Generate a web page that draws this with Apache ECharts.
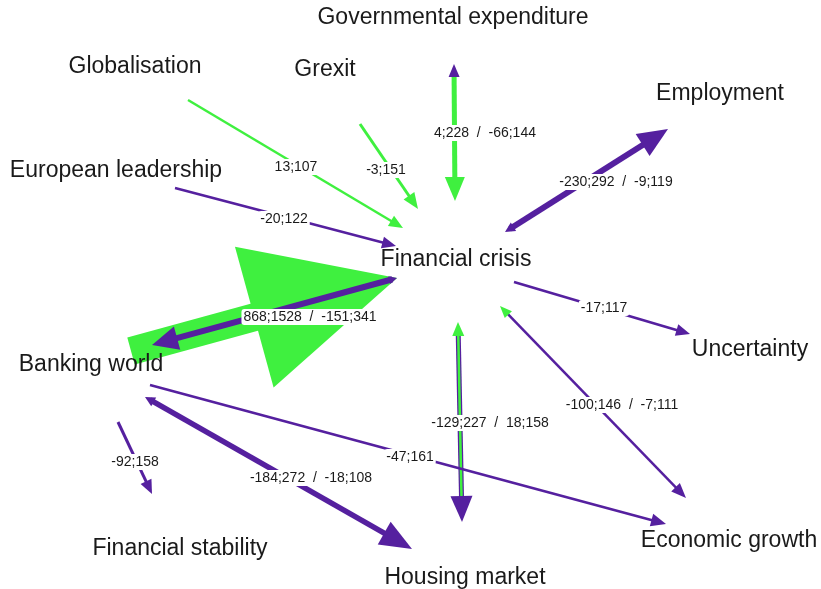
<!DOCTYPE html>
<html>
<head>
<meta charset="utf-8">
<script src="https://cdn.jsdelivr.net/npm/echarts@6/dist/echarts.min.js"></script>
<style>
  html, body { margin: 0; padding: 0; background: #fff; }
  #chart { width: 821px; height: 589px; }
</style>
</head>
<body>
<div id="chart"></div>
<script>
// concept nodes and where their names sit (picture units, y downwards)
const nodeNames = ['Governmental expenditure', 'Globalisation', 'Grexit', 'Employment',
  'European leadership', 'Financial crisis', 'Uncertainty', 'Banking world',
  'Financial stability', 'Economic growth', 'Housing market'];
const nodeX = [453, 135, 325, 720, 116, 456, 750, 91, 180, 729, 465];
const nodeY = [18, 67, 70, 94, 171, 260, 350, 365, 549, 541, 578];

// arrows: start point -> end point
const arrowFrom = [[131, 351], [397, 278], [454, 64], [360, 124], [188, 100], [175, 188],
  [505, 232], [514, 282], [500, 306], [458, 322], [150, 385], [145, 397], [118, 422]];
const arrowTo = [[397, 278], [152, 345], [455, 201], [418, 209], [403, 228], [396, 246],
  [668, 129], [690, 334], [686, 498], [462, 522], [666, 524], [412, 549], [152, 494]];

// edge labels and their anchor points
const edgeLabels = ['868;1528  /  -151;341', '', '4;228  /  -66;144', '-3;151', '13;107', '-20;122',
  '-230;292  /  -9;119', '-17;117', '-100;146  /  -7;111', '-129;227  /  18;158', '-47;161',
  '-184;272  /  -18;108', '-92;158'];
const edgeLabelX = [310, 0, 485, 386, 296, 284, 616, 604, 622, 490, 410, 311, 135];
const edgeLabelY = [317, 0, 133, 170, 167, 219, 182, 308, 405, 423, 457, 478, 462];

const GREEN = '#3ff03f';
const PURPLE = '#55209f';
const FONT = 'Liberation Sans, Arial, sans-serif';

// drawing style per arrow: shaft width, colour, head [length, width], optional back head
const arrowStyle = [
  { w: 28, c: GREEN, head: [148, 146] },
  { w: 6, c: PURPLE, head: [26, 24], back: { c: PURPLE, s: [8, 8] } },
  { w: 5, c: GREEN, head: [24, 20], back: { c: PURPLE, s: [13, 11] } },
  { w: 3, c: GREEN, head: [16, 13] },
  { w: 2.5, c: GREEN, head: [14, 12] },
  { w: 2.5, c: PURPLE, head: [14, 12] },
  { w: 6, c: PURPLE, head: [30, 26], back: { c: PURPLE, s: [10, 10] } },
  { w: 2.5, c: PURPLE, head: [14, 12] },
  { w: 2.5, c: PURPLE, head: [15, 12], back: { c: GREEN, s: [12, 10] } },
  { w: 5, c: PURPLE, core: GREEN, head: [26, 22], back: { c: GREEN, s: [14, 12] } },
  { w: 2.5, c: PURPLE, head: [15, 13] },
  { w: 5.5, c: PURPLE, head: [32, 26], back: { c: PURPLE, s: [10, 10] } },
  { w: 3, c: PURPLE, head: [14, 12] }
];

function headPoly(tip, ux, uy, len, wid) {
  const bx = tip[0] - ux * len, by = tip[1] - uy * len;
  const px = -uy * wid / 2, py = ux * wid / 2;
  return [tip, [bx + px, by + py], [bx - px, by - py]];
}

function renderArrow(params, api) {
  const i = api.value(0);
  const st = arrowStyle[i];
  const p1 = api.coord([api.value(1), api.value(2)]);
  const p2 = api.coord([api.value(3), api.value(4)]);
  const dx = p2[0] - p1[0], dy = p2[1] - p1[1];
  const d = Math.sqrt(dx * dx + dy * dy);
  const ux = dx / d, uy = dy / d;
  const endCut = st.head[0] * 0.7;
  const startCut = st.back ? st.back.s[0] * 0.6 : 0;
  const s1 = [p1[0] + ux * startCut, p1[1] + uy * startCut];
  const s2 = [p2[0] - ux * endCut, p2[1] - uy * endCut];
  const children = [{
    type: 'line',
    shape: { x1: s1[0], y1: s1[1], x2: s2[0], y2: s2[1] },
    style: { stroke: st.c, lineWidth: st.w, lineCap: 'butt' }
  }];
  if (st.core) {
    children.push({
      type: 'line',
      shape: { x1: s1[0], y1: s1[1], x2: s2[0], y2: s2[1] },
      style: { stroke: st.core, lineWidth: st.w * 0.5, lineCap: 'butt' }
    });
  }
  children.push({
    type: 'polygon',
    shape: { points: headPoly(p2, ux, uy, st.head[0], st.head[1]) },
    style: { fill: st.c }
  });
  if (st.back) {
    children.push({
      type: 'polygon',
      shape: { points: headPoly(p1, -ux, -uy, st.back.s[0], st.back.s[1]) },
      style: { fill: st.back.c }
    });
  }
  return { type: 'group', children: children };
}

function renderEdgeLabel(params, api) {
  const i = api.value(0);
  const p = api.coord([api.value(1), api.value(2)]);
  return {
    type: 'text',
    x: p[0], y: p[1],
    style: {
      text: edgeLabels[i],
      fill: '#1a1a1a',
      font: '14px ' + FONT,
      align: 'center',
      verticalAlign: 'middle',
      backgroundColor: '#ffffff',
      borderRadius: 3,
      padding: [1, 2]
    }
  };
}

function renderNodeLabel(params, api) {
  const i = api.value(0);
  const p = api.coord([api.value(1), api.value(2)]);
  return {
    type: 'text',
    x: p[0], y: p[1],
    style: {
      text: nodeNames[i],
      fill: '#1a1a1a',
      font: '23px ' + FONT,
      align: 'center',
      verticalAlign: 'middle'
    }
  };
}

const chart = echarts.init(document.getElementById('chart'));

chart.setOption({
  animation: false,
  backgroundColor: '#fff',
  grid: { left: 0, right: 0, top: 0, bottom: 0 },
  xAxis: { type: 'value', min: 0, max: 821, show: false },
  yAxis: { type: 'value', min: 0, max: 589, inverse: true, show: false },
  series: [
    {
      type: 'custom',
      silent: true,
      renderItem: renderArrow,
      data: arrowFrom.map((f, i) => [i, f[0], f[1], arrowTo[i][0], arrowTo[i][1]]),
      z: 1
    },
    {
      type: 'custom',
      silent: true,
      renderItem: renderEdgeLabel,
      data: edgeLabelX.map((x, i) => [i, x, edgeLabelY[i]]).filter(d => edgeLabels[d[0]] !== ''),
      z: 3
    },
    {
      type: 'custom',
      silent: true,
      renderItem: renderNodeLabel,
      data: nodeNames.map((n, i) => [i, nodeX[i], nodeY[i]]),
      z: 4
    }
  ]
});
</script>
</body>
</html>
